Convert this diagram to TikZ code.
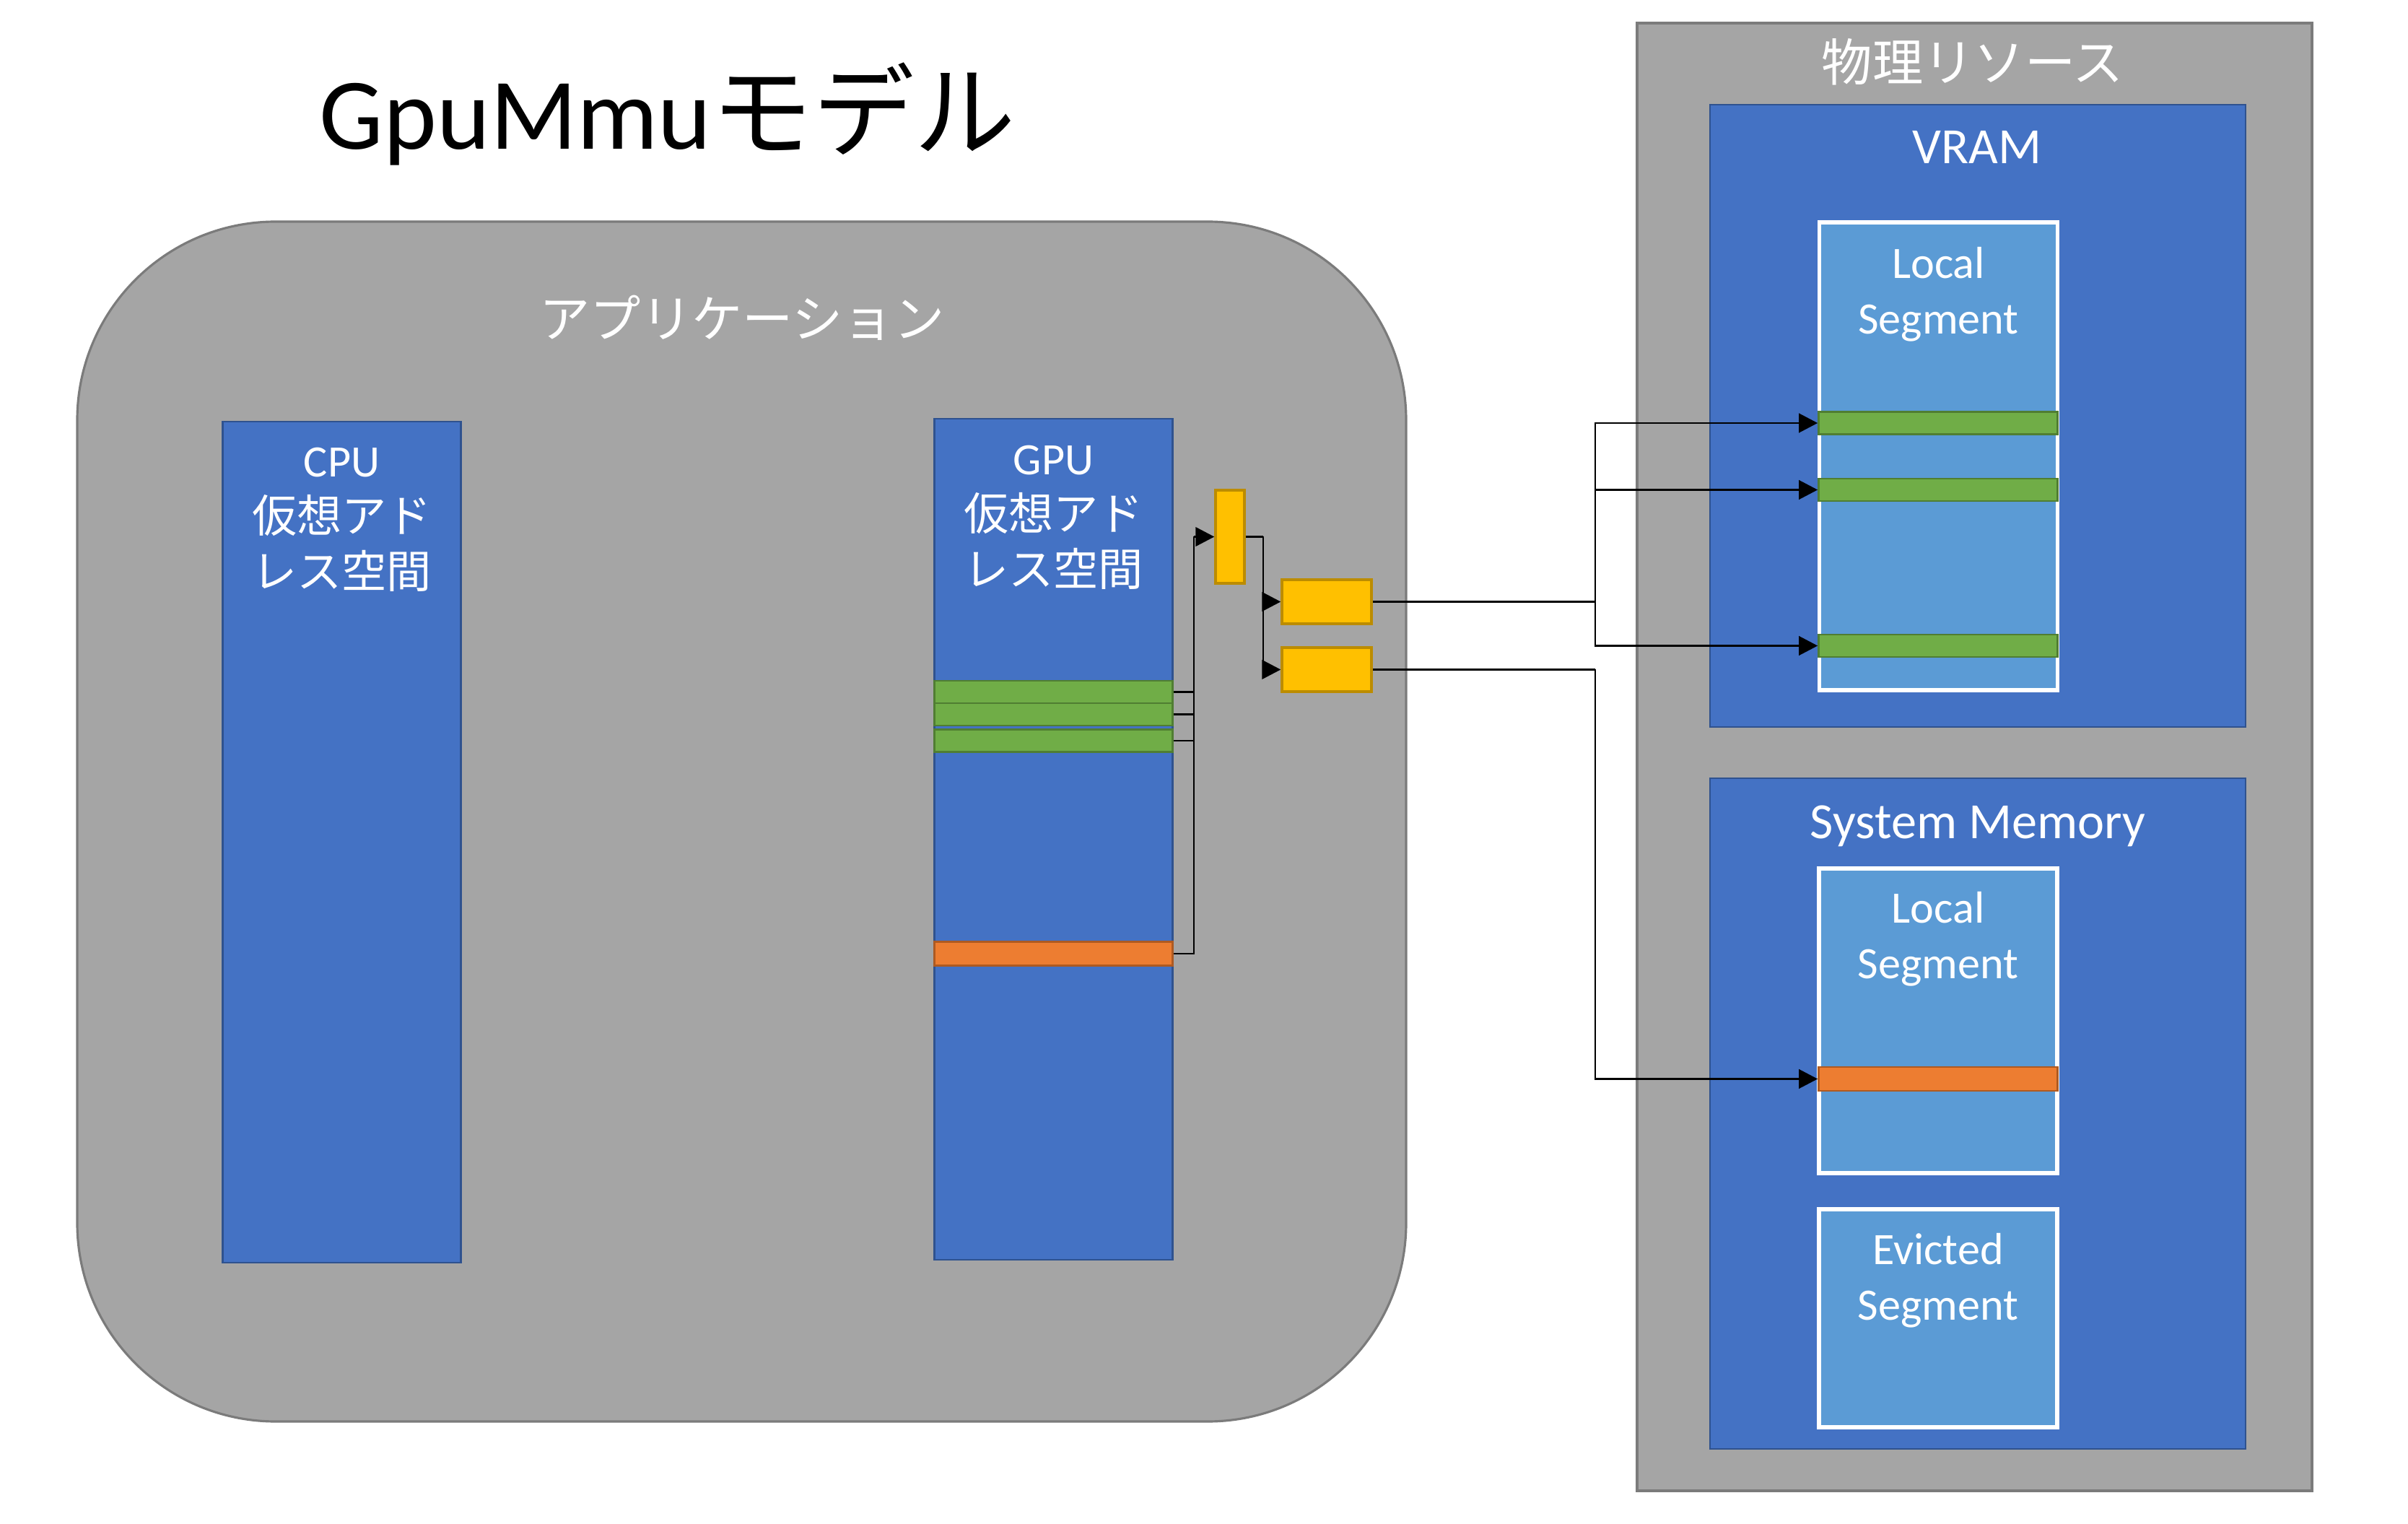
\documentclass[tikz,border=0pt]{standalone}
\usepackage{fontspec}
\setmainfont{Carlito}
\newfontfamily\jp{Noto Sans CJK JP}
\usetikzlibrary{arrows.meta}

\definecolor{appgray}{HTML}{A5A5A5}
\definecolor{grayline}{HTML}{7B7B7B}
\definecolor{memblue}{HTML}{4472C4}
\definecolor{blueline}{HTML}{2F528F}
\definecolor{seglight}{HTML}{5B9BD5}
\definecolor{pagegreen}{HTML}{70AD47}
\definecolor{greenline}{HTML}{507E32}
\definecolor{pageorange}{HTML}{ED7D31}
\definecolor{orangeline}{HTML}{AE5A21}
\definecolor{tablegold}{HTML}{FFC000}
\definecolor{goldline}{HTML}{BC8C00}

\tikzset{
  tip/.style={-{Triangle[length=7.4pt,width=7.6pt]}},
  fsmall/.style={font=\fontsize{17.7}{21.9}\selectfont},
  fmid/.style={font=\fontsize{20}{24}\selectfont},
}

\begin{document}
\begin{tikzpicture}[x=1cm,y=-1cm]

      \useasboundingbox (0,0) rectangle (33.36,21.11);

      \node[anchor=base west,inner sep=0,font=\fontsize{40}{48}\selectfont] (title) at (4.42,2.07) {GpuMmu{\jp モデル}};

      \begin{scope}[every node/.style={draw=grayline,fill=appgray,line width=0.9pt,inner sep=0}]
        \node[rounded corners=2.75cm,minimum width=18.41cm,minimum height=16.62cm] (app) at (10.275,11.38) {};
        \node[minimum width=9.35cm,minimum height=20.33cm] (phys) at (27.355,10.485) {};
      \end{scope}

      \begin{scope}[every node/.style={draw=blueline,fill=memblue,line width=0.8pt,inner sep=0,minimum width=3.30cm,minimum height=11.65cm}]
        \node (cpu) at (4.735,11.665) {};
        \node (gpu) at (14.595,11.625) {};
      \end{scope}

      \begin{scope}[every node/.style={draw=blueline,fill=memblue,line width=0.8pt,inner sep=0,minimum width=7.42cm}]
        \node[minimum height=8.62cm] (vram) at (27.40,5.76) {};
        \node[minimum height=9.29cm] (sysmem) at (27.40,15.425) {};
      \end{scope}

      \begin{scope}[every node/.style={draw=white,fill=seglight,line width=1.5pt,inner sep=0,minimum width=3.30cm}]
        \node[minimum height=6.48cm] (vlocal) at (26.855,6.32) {};
        \node[minimum height=4.22cm] (slocal) at (26.85,14.14) {};
        \node[minimum height=3.02cm] (evicted) at (26.85,18.26) {};
      \end{scope}

      \begin{scope}[every node/.style={draw=greenline,fill=pagegreen,line width=0.8pt,inner sep=0,minimum height=0.31cm}]
        \node[minimum width=3.30cm] (gpug1) at (14.595,9.585) {};
        \node[minimum width=3.30cm] (gpug2) at (14.595,9.895) {};
        \node[minimum width=3.30cm] (gpug3) at (14.595,10.26) {};
        \node[minimum width=3.31cm] (vg1) at (26.85,5.86) {};
        \node[minimum width=3.31cm] (vg2) at (26.85,6.785) {};
        \node[minimum width=3.31cm] (vg3) at (26.85,8.945) {};
      \end{scope}

      \begin{scope}[every node/.style={draw=orangeline,fill=pageorange,line width=0.8pt,inner sep=0,minimum height=0.33cm}]
        \node[minimum width=3.30cm] (gpuor) at (14.595,13.21) {};
        \node[minimum width=3.31cm] (sor) at (26.85,14.945) {};
      \end{scope}

      \begin{scope}[every node/.style={draw=goldline,fill=tablegold,line width=1pt,inner sep=0}]
        \node[minimum width=0.40cm,minimum height=1.29cm] (pde) at (17.04,7.435) {};
        \node[minimum width=1.24cm,minimum height=0.61cm] (pt1) at (18.38,8.335) {};
        \node[minimum width=1.24cm,minimum height=0.61cm] (pt2) at (18.38,9.275) {};
      \end{scope}

      \begin{scope}[every node/.style={text=white,inner sep=0,align=center}]
        \node[fmid] (applabel) at (10.28,4.40) {\jp アプリケーション};
        \node[fmid] (physlabel) at (27.33,0.86) {\jp 物理リソース};
        \node[fsmall,anchor=north] (cpulabel) at (4.735,6.19) {CPU\\{\jp 仮想アド}\\{\jp レス空間}};
        \node[fsmall,anchor=north] (gpulabel) at (14.595,6.16) {GPU\\{\jp 仮想アド}\\{\jp レス空間}};
        \node[fmid,anchor=north] (vramlabel) at (27.39,1.81) {VRAM};
        \node[fmid,anchor=north] (syslabel) at (27.40,11.15) {System Memory};
        \node[fsmall,anchor=north] (vlocallabel) at (26.855,3.42) {Local\\Segment};
        \node[fsmall,anchor=north] (slocallabel) at (26.85,12.35) {Local\\Segment};
        \node[fsmall,anchor=north] (evictedlabel) at (26.85,17.08) {Evicted\\Segment};
      \end{scope}

      \coordinate (j1) at (16.54,7.435);
      \coordinate (j2) at (17.50,7.435);
      \coordinate (j3) at (22.10,8.335);
      \coordinate (j4) at (22.10,9.275);

      \begin{scope}[line width=0.6pt]
        \draw (gpug1.east) -| (j1);
        \draw (gpug2.east) -| (j1);
        \draw (gpug3.east) -| (j1);
        \draw (gpuor.east) -| (j1);
        \draw[tip] (j1) -- (pde.west);

        \draw (pde.east) -- (j2);
        \draw[tip] (j2) |- (pt1.west);
        \draw[tip] (j2) |- (pt2.west);

        \draw (pt1.east) -- (j3);
        \draw[tip] (j3) |- (vg1.west);
        \draw[tip] (j3) |- (vg2.west);
        \draw[tip] (j3) |- (vg3.west);

        \draw (pt2.east) -- (j4);
        \draw[tip] (j4) |- (sor.west);
      \end{scope}

    \end{tikzpicture}
\end{document}
